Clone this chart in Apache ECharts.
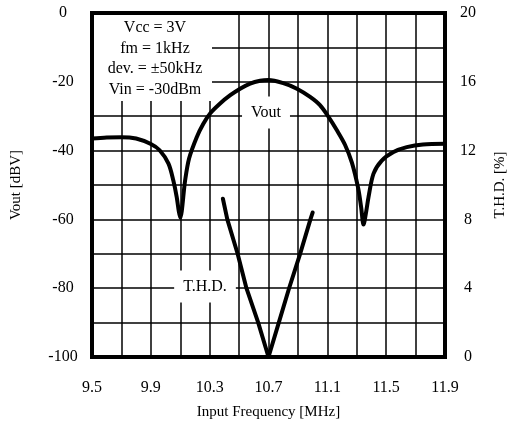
<!DOCTYPE html>
<html>
<head>
<meta charset="utf-8">
<script src="https://cdn.jsdelivr.net/npm/echarts@6/dist/echarts.min.js"></script>
<style>
  html, body { margin: 0; padding: 0; background: #fff; }
  #chart { width: 510px; height: 439px; }
</style>
</head>
<body>
<div id="chart"></div>
<script>
// Frequency axis range (MHz); the axis runs in offsets from FREQ_START so
// that the 0.2 MHz grid starts exactly at the left edge.
const FREQ_START = 9.5;
const FREQ_END = 11.9;
const FREQ_STEP = 0.2;

// Output level vs. input frequency
const voutFreq = [9.5, 9.6, 9.7, 9.8, 9.9, 9.96, 10.02, 10.053, 10.076, 10.09, 10.1,
  10.133, 10.16, 10.212, 10.257, 10.303, 10.371, 10.44, 10.507, 10.575, 10.643, 10.7,
  10.8, 10.893, 10.983, 11.05, 11.108, 11.165, 11.22, 11.267, 11.31, 11.33, 11.346,
  11.365, 11.38, 11.414, 11.47, 11.55, 11.64, 11.75, 11.9];
const voutDbv = [-36.5, -36.2, -36.1, -36.5, -38.1, -39.9, -43.8, -48.7, -53.5, -57.6, -59.5,
  -48.7, -42.3, -36.1, -32.2, -29.2, -26.3, -23.9, -22, -20.5, -19.7, -19.5,
  -20.4, -22, -24.4, -26.8, -30.2, -34.1, -38.3, -43.5, -51, -56.5, -61.5,
  -57.5, -53.5, -46.7, -42.9, -40.4, -39, -38.2, -38];

// Total harmonic distortion vs. input frequency
const thdFreq = [10.39, 10.42, 10.49, 10.55, 10.63, 10.7, 10.77, 10.84, 10.915, 10.985, 11.0];
const thdPct = [9.2, 8, 6, 4, 2, 0, 2, 4, 6, 8, 8.4];

// Measurement conditions
const conditions = ['Vcc = 3V', 'fm = 1kHz', 'dev. = \u00b150kHz', 'Vin = -30dBm'];

const FONT = '"Liberation Serif", "Times New Roman", serif';

function toPairs(xs, ys) {
  return xs.map((f, i) => [f - FREQ_START, ys[i]]);
}

const chart = echarts.init(document.getElementById('chart'), null, { renderer: 'canvas' });

chart.setOption({
  animation: false,
  backgroundColor: '#fff',
  textStyle: { fontFamily: FONT, color: '#000' },
  grid: {
    left: 92, right: 65, top: 13, bottom: 82,
    containLabel: false,
    outerBoundsMode: 'none',
    show: true, borderColor: '#000', borderWidth: 4, backgroundColor: 'transparent'
  },
  xAxis: {
    type: 'value',
    min: 0,
    max: Math.round((FREQ_END - FREQ_START) * 10) / 10,
    interval: FREQ_STEP,
    axisLine: { show: false },
    axisTick: { show: false },
    splitLine: { show: true, lineStyle: { color: '#000', width: 1.5 } },
    axisLabel: {
      margin: 23,
      fontFamily: FONT, fontSize: 16, color: '#000',
      formatter: v => {
        const k = Math.round(v / FREQ_STEP);
        return k % 2 === 0 ? (FREQ_START + k * FREQ_STEP).toFixed(1) : '';
      }
    },
    name: 'Input Frequency [MHz]',
    nameLocation: 'middle',
    nameGap: 48,
    nameTextStyle: { fontFamily: FONT, fontSize: 15, color: '#000' }
  },
  yAxis: [
    {
      type: 'value',
      min: -100, max: 0, interval: 10,
      axisLine: { show: false },
      axisTick: { show: false },
      splitLine: { show: true, lineStyle: { color: '#000', width: 1.5 } },
      axisLabel: {
        margin: 29, align: 'center',
        fontFamily: FONT, fontSize: 16, color: '#000',
        formatter: v => (Math.round(v) % 20 === 0 ? String(Math.round(v)) : '')
      },
      name: 'Vout [dBV]',
      nameLocation: 'middle',
      nameRotate: 90,
      nameGap: 68,
      nameTextStyle: { fontFamily: FONT, fontSize: 15, color: '#000' }
    },
    {
      type: 'value',
      position: 'right',
      min: 0, max: 20, interval: 2,
      axisLine: { show: false },
      axisTick: { show: false },
      splitLine: { show: false },
      axisLabel: {
        margin: 23, align: 'center',
        fontFamily: FONT, fontSize: 16, color: '#000',
        formatter: v => (Math.round(v) % 4 === 0 ? String(Math.round(v)) : '')
      },
      name: 'T.H.D. [%]',
      nameLocation: 'middle',
      nameRotate: 90,
      nameGap: 48,
      nameTextStyle: { fontFamily: FONT, fontSize: 15, color: '#000' }
    }
  ],
  series: [
    {
      name: 'Vout',
      type: 'line',
      yAxisIndex: 0,
      data: toPairs(voutFreq, voutDbv),
      showSymbol: false,
      smooth: 0.3,
      lineStyle: { color: '#000', width: 4, cap: 'round', join: 'round' },
      z: 3
    },
    {
      name: 'T.H.D.',
      type: 'line',
      yAxisIndex: 1,
      data: toPairs(thdFreq, thdPct),
      showSymbol: false,
      lineStyle: { color: '#000', width: 4, cap: 'round', join: 'round' },
      z: 3
    }
  ],
  graphic: [
    {
      type: 'rect', z: 5,
      shape: { x: 94, y: 15, width: 118, height: 86 },
      style: { fill: '#fff' }
    },
    {
      type: 'text', z: 6,
      style: {
        text: conditions.join('\n'),
        x: 155, y: 18,
        align: 'center', verticalAlign: 'top',
        font: '16px ' + FONT, lineHeight: 20.5, fill: '#000'
      }
    },
    {
      type: 'text', z: 6,
      style: {
        text: 'Vout', x: 266, y: 112.5,
        align: 'center', verticalAlign: 'middle',
        font: '16px ' + FONT, fill: '#000',
        backgroundColor: '#fff', padding: [8, 9]
      }
    },
    {
      type: 'text', z: 6,
      style: {
        text: 'T.H.D.', x: 205, y: 286.5,
        align: 'center', verticalAlign: 'middle',
        font: '16px ' + FONT, fill: '#000',
        backgroundColor: '#fff', padding: [8, 9]
      }
    }
  ]
});
</script>
</body>
</html>
